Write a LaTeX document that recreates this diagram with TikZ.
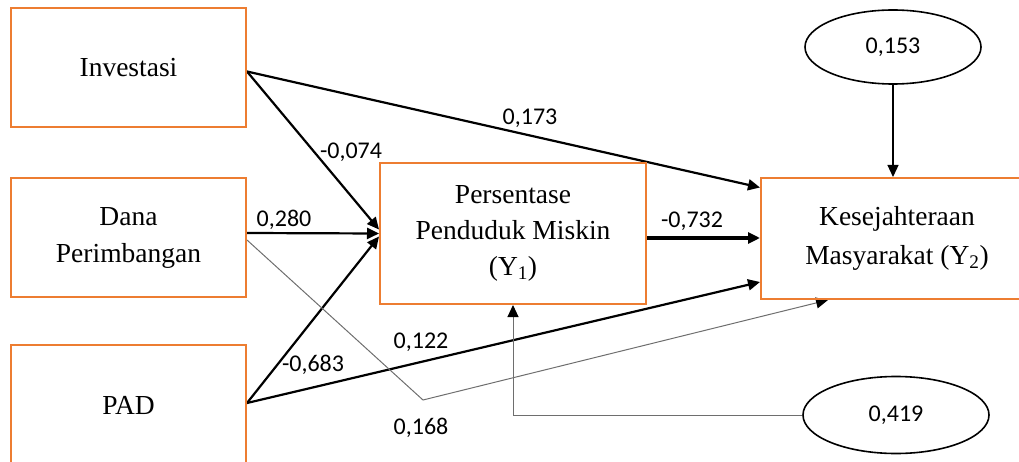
\documentclass[tikz,border=0pt]{standalone}
\usepackage{fontspec}
\setmainfont{Liberation Serif}
\newfontfamily\coeffont{Carlito}
\usetikzlibrary{shapes.geometric,arrows.meta}
\definecolor{borange}{HTML}{ED7D31}
\definecolor{lgrey}{HTML}{6E6E6E}
\tikzstyle{varbox}=[rectangle,draw=borange,line width=2pt,align=center,inner sep=0pt,font=\fontsize{27.5}{37}\selectfont]
\tikzstyle{resid}=[ellipse,draw=black,line width=1.6pt,inner sep=0pt,minimum width=176pt,minimum height=74pt,font=\coeffont\fontsize{24}{28}\selectfont]
\tikzstyle{coefval}=[inner sep=0pt,font=\coeffont\fontsize{24}{28}\selectfont]
\tikzstyle{strongarrow}=[-{Triangle[length=12pt,width=11pt]},line width=2.2pt]
\tikzstyle{boldarrow}=[-{Triangle[length=12pt,width=11pt]},line width=4pt]
\tikzstyle{thinarrow}=[-{Triangle[length=12pt,width=11pt,color=black]},draw=lgrey,line width=1pt]
\tikzstyle{errarrow}=[-{Triangle[length=12pt,width=11pt]},line width=1.2pt]
\pgfdeclarelayer{edgelayer}
\pgfdeclarelayer{nodelayer}
\pgfsetlayers{edgelayer,nodelayer,main}
\begin{document}
\begin{tikzpicture}[x=1pt,y=-1pt]
	\useasboundingbox (0,0) rectangle (1019,462);
	\begin{pgfonlayer}{nodelayer}
		\node [style=varbox, minimum width=235pt, minimum height=119pt] (inv) at (128.5, 67.5) {Investasi};
		\node [style=varbox, minimum width=235pt, minimum height=119pt] (dana) at (128.5, 237.5) {Dana\\Perimbangan};
		\node [style=varbox, minimum width=235pt, minimum height=120pt] (pad) at (128.5, 405) {PAD};
		\node [style=varbox, minimum width=266pt, minimum height=141pt, font=\fontsize{27.5}{36}\selectfont] (y1) at (513, 233.5) {Persentase\\Penduduk Miskin\\(Y\textsubscript{1})};
		\node [style=varbox, minimum width=272pt, minimum height=121pt, font=\fontsize{27.5}{39}\selectfont] (y2) at (897, 238.5) {Kesejahteraan\\Masyarakat (Y\textsubscript{2})};

		\node [style=resid] (e1) at (893, 47) {0,153};
		\node [style=resid, minimum width=186pt, minimum height=77pt] (e2) at (896, 415) {0,419};

		\coordinate (bend) at (423, 400);

		\node [style=coefval] at (530, 118) {0,173};
		\node [style=coefval] at (351, 152) {-0,074};
		\node [style=coefval] at (284, 220) {0,280};
		\node [style=coefval] at (692, 221) {-0,732};
		\node [style=coefval] at (421, 342) {0,122};
		\node [style=coefval] at (313, 365) {-0,683};
		\node [style=coefval] at (421, 428) {0,168};
	\end{pgfonlayer}
	\begin{pgfonlayer}{edgelayer}
		\draw [style=strongarrow] ([yshift=-4pt]inv.east) to ([yshift=51pt]y2.west);
		\draw [style=strongarrow] ([yshift=-4pt]inv.east) to ([yshift=4pt]y1.west);
		\draw [style=strongarrow] ([yshift=4.5pt]dana.east) to (y1.west);
		\draw [style=strongarrow] ([yshift=2pt]pad.east) to ([yshift=-3pt]y1.west);
		\draw [style=strongarrow] ([yshift=2pt]pad.east) to ([yshift=-43.5pt]y2.west);
		\draw [style=boldarrow] ([yshift=-4.5pt]y1.east) to ([yshift=-4.5pt]y1.east -| y2.west);
		\draw [style=thinarrow] ([yshift=-2.5pt]dana.east) to (bend) to ([xshift=-69pt]y2.south);
		\draw [style=errarrow] (e1.south) to (e1.south |- y2.north);
		\draw [style=thinarrow] (e2.west) -| (y1.south);
	\end{pgfonlayer}
\end{tikzpicture}
\end{document}
